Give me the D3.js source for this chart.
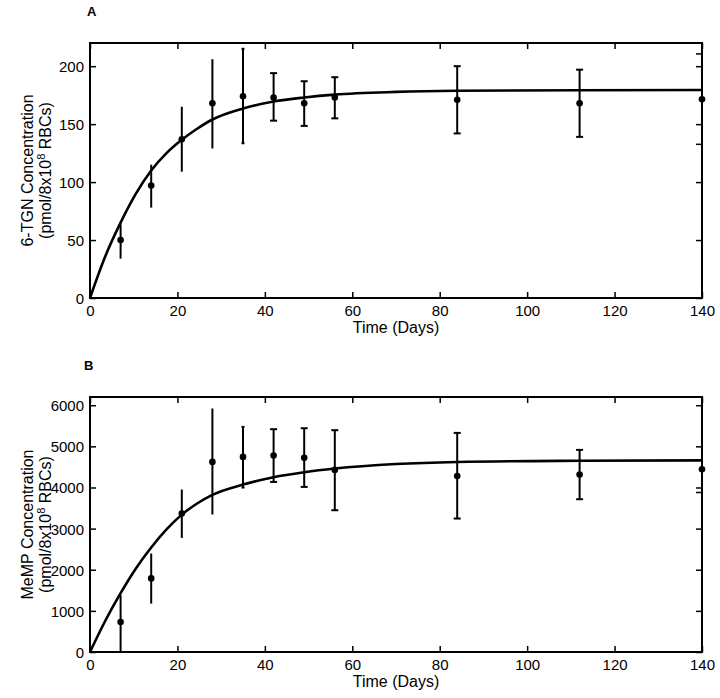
<!DOCTYPE html>
<html>
<head>
<meta charset="utf-8">
<script src="https://cdn.jsdelivr.net/npm/d3@7"></script>
<style>
  html, body { margin: 0; padding: 0; background: #fff; }
  svg text { font-family: "Liberation Sans", Arial, sans-serif; fill: #000; }
</style>
</head>
<body>
<svg id="chart" width="720" height="698"></svg>
<script>
// ---------------- data ----------------
const days = [7, 14, 21, 28, 35, 42, 49, 56, 84, 112, 140];

// Panel A: 6-TGN
const tgnMean = [50, 97, 137, 168, 174, 173, 168, 173, 171, 168, 171.5];
const tgnLow  = [34, 78, 109, 129, 133.5, 153, 148.5, 155, 142, 139, null];
const tgnHigh = [63.5, 115, 165, 206, 215, 194, 187, 190.5, 200, 197, null];

// Panel B: MeMP
const mempMean = [730, 1790, 3366, 4622, 4744, 4777, 4720, 4427, 4281, 4315, 4444];
const mempLow  = [0, 1177, 2774, 3342, 3999, 4135, 4014, 3447, 3245, 3714, null];
const mempHigh = [1380, 2393, 3950, 5920, 5473, 5417, 5441, 5393, 5327, 4914, null];

// Fitted model curves
const fitDays = [0, 3.5, 7, 10.5, 14, 17.5, 21, 24.5, 28, 35, 42, 49, 56, 70, 84, 112, 140];
const tgnFit  = [0, 36, 65, 90, 110, 125, 136.5, 146, 154, 163.5, 169.5, 173, 175.5, 177.8, 178.8, 179.3, 179.4];
const mempFit = [0, 760, 1430, 2030, 2540, 2980, 3340, 3610, 3820, 4070, 4250, 4370, 4460, 4570, 4620, 4650, 4660];

// Axes
const xTicks = [0, 20, 40, 60, 80, 100, 120, 140];
const yTicksA = [0, 50, 100, 150, 200];
const yTicksB = [0, 1000, 2000, 3000, 4000, 5000, 6000];
const extraRightTicksA = [211, 133];
const extraRightTicksB = [3890];

const panels = [
  { letter: "A", mean: tgnMean, low: tgnLow, high: tgnHigh, fit: tgnFit,
    yMax: 220, yTicks: yTicksA, extra: extraRightTicksA,
    yTitle1: "6-TGN Concentration" },
  { letter: "B", mean: mempMean, low: mempLow, high: mempHigh, fit: mempFit,
    yMax: 6200, yTicks: yTicksB, extra: extraRightTicksB,
    yTitle1: "MeMP Concentration" }
];

// ---------------- layout ----------------
const svg = d3.select("#chart");
const left = 90, plotW = 612, plotH = 255;
const tops = [43, 397];
const tickLen = 6;
const fmt = d3.format("d");

panels.forEach((p, i) => {
  const top = tops[i];
  const g = svg.append("g").attr("transform", `translate(${left},${top})`);
  const x = d3.scaleLinear().domain([0, 140]).range([0, plotW]);
  const y = d3.scaleLinear().domain([0, p.yMax]).range([plotH, 0]);

  const clipId = "clip" + i;
  g.append("clipPath").attr("id", clipId)
    .append("rect").attr("x", -5).attr("y", 0).attr("width", plotW + 10).attr("height", plotH);

  const bottom = g.append("g").attr("transform", `translate(0,${plotH})`)
    .call(d3.axisBottom(x).tickValues(xTicks).tickFormat(fmt).tickSizeInner(-tickLen).tickSizeOuter(0).tickPadding(7));
  const leftAx = g.append("g")
    .call(d3.axisLeft(y).tickValues(p.yTicks).tickFormat(fmt).tickSizeInner(-tickLen).tickSizeOuter(0).tickPadding(6));
  const topAx = g.append("g")
    .call(d3.axisTop(x).tickValues(xTicks).tickSizeInner(-tickLen).tickSizeOuter(0).tickFormat(""));
  const rightAx = g.append("g").attr("transform", `translate(${plotW},0)`)
    .call(d3.axisRight(y).tickValues(p.yTicks.concat(p.extra)).tickSizeInner(-tickLen).tickSizeOuter(0).tickFormat(""));

  [bottom, leftAx, topAx, rightAx].forEach(a => {
    a.select(".domain").remove();
    a.selectAll(".tick line").attr("stroke", "#000").attr("stroke-width", 1.5);
    a.selectAll(".tick text").attr("font-size", 15).attr("fill", "#000")
      .attr("font-family", '"Liberation Sans", Arial, sans-serif');
  });
  leftAx.selectAll(".tick text").attr("dy", "0.36em");

  g.append("rect").attr("x", 0).attr("y", 0).attr("width", plotW).attr("height", plotH)
    .attr("fill", "none").attr("stroke", "#000").attr("stroke-width", 2);

  const plot = g.append("g").attr("clip-path", `url(#${clipId})`);

  const line = d3.line().x(d => x(d[0])).y(d => y(d[1])).curve(d3.curveMonotoneX);
  plot.append("path")
    .datum(fitDays.map((d, k) => [d, p.fit[k]]))
    .attr("d", line).attr("fill", "none").attr("stroke", "#000").attr("stroke-width", 2.6);

  days.forEach((d, k) => {
    if (p.low[k] == null) return;
    const cx = x(d);
    plot.append("line").attr("x1", cx).attr("x2", cx)
      .attr("y1", y(p.low[k])).attr("y2", y(p.high[k]))
      .attr("stroke", "#000").attr("stroke-width", 2);
    const cap = d >= 42 ? 3.5 : (d >= 35 ? 1.5 : 0);
    if (cap > 0) {
      [p.low[k], p.high[k]].forEach(v => {
        plot.append("line").attr("x1", cx - cap).attr("x2", cx + cap)
          .attr("y1", y(v)).attr("y2", y(v))
          .attr("stroke", "#000").attr("stroke-width", 2);
      });
    }
  });

  g.selectAll("circle.pt").data(days.map((d, k) => [d, p.mean[k]])).enter()
    .append("circle").attr("class", "pt")
    .attr("cx", d => x(d[0])).attr("cy", d => y(d[1])).attr("r", 3.3).attr("fill", "#000");

  svg.append("text").attr("x", i === 0 ? 87 : 84).attr("y", top - 27)
    .attr("font-size", 13).attr("font-weight", "bold").text(p.letter);

  g.append("text").attr("x", plotW / 2).attr("y", plotH + 35)
    .attr("text-anchor", "middle").attr("font-size", 16).text("Time (Days)");

  const yt = g.append("g").attr("transform", `translate(-53,${plotH / 2}) rotate(-90)`);
  yt.append("text").attr("x", 0).attr("y", -4).attr("text-anchor", "middle")
    .attr("font-size", 16).text(p.yTitle1);
  const l2 = yt.append("text").attr("x", 0).attr("y", 14).attr("text-anchor", "middle")
    .attr("font-size", 16);
  l2.append("tspan").text("(pmol/8x10");
  l2.append("tspan").attr("font-size", 11).attr("dy", -6).text("8");
  l2.append("tspan").attr("dy", 6).text(" RBCs)");
});
</script>
</body>
</html>
